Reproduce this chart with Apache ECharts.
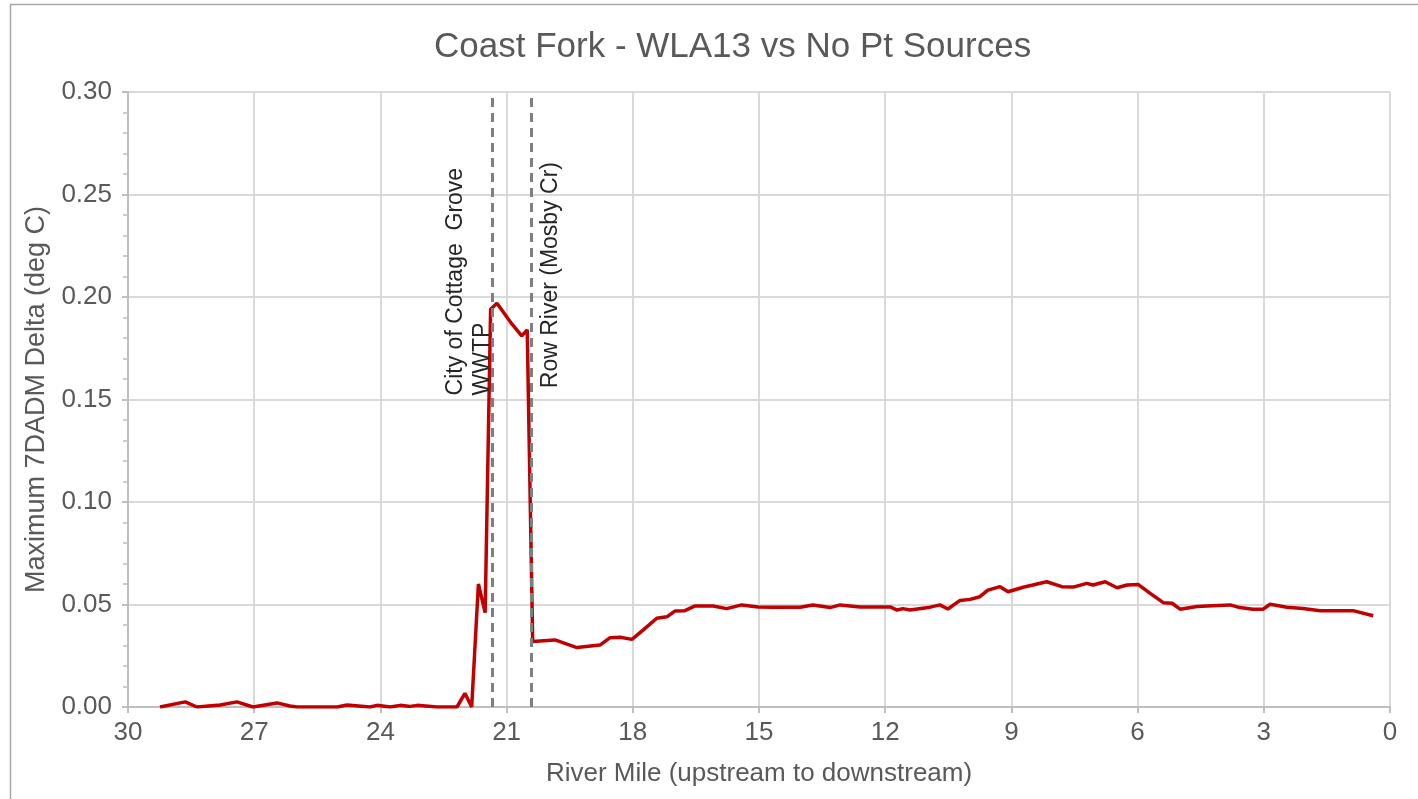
<!DOCTYPE html>
<html>
<head>
<meta charset="utf-8">
<script src="https://cdn.jsdelivr.net/npm/echarts@6/dist/echarts.min.js"></script>
<style>
html,body{margin:0;padding:0;background:#fff;}
#chart{width:1418px;height:799px;}
</style>
</head>
<body>
<div id="chart"></div>
<script>
// River mile (upstream to downstream) and Maximum 7DADM delta (deg C)
var riverMile = [29.24,28.64,28.36,27.81,27.41,27.03,26.46,26.15,25.98,25.03,24.79,24.25,24.08,23.77,23.53,23.29,23.13,22.65,22.18,21.99,21.83,21.67,21.51,21.38,21.23,20.88,20.64,20.51,20.38,19.85,19.33,18.78,18.54,18.30,18.02,17.75,17.43,17.19,17.00,16.76,16.52,16.09,15.77,15.41,15.02,14.67,14.02,13.72,13.31,13.07,12.60,11.88,11.72,11.58,11.41,10.93,10.70,10.51,10.22,9.98,9.75,9.56,9.27,9.08,8.72,8.49,8.16,7.80,7.53,7.21,7.06,6.77,6.49,6.25,5.99,5.70,5.39,5.18,4.99,4.59,4.35,3.80,3.57,3.26,3.02,2.85,2.45,2.07,1.66,0.88,0.40];
var delta = [0.000,0.0025,0.000,0.001,0.0025,0.000,0.002,0.0005,0.000,0.000,0.001,0.000,0.0008,0.000,0.0008,0.0003,0.0008,0.000,0.000,0.0067,0.000,0.060,0.046,0.194,0.197,0.187,0.181,0.184,0.032,0.0327,0.029,0.0302,0.0338,0.034,0.033,0.0376,0.0433,0.044,0.0468,0.047,0.0493,0.0493,0.048,0.0498,0.0488,0.0487,0.0487,0.0498,0.0485,0.0498,0.0488,0.0488,0.0473,0.048,0.0473,0.0487,0.0498,0.0478,0.052,0.0525,0.0538,0.057,0.0587,0.0562,0.0584,0.0595,0.0611,0.0587,0.0585,0.0603,0.0595,0.0611,0.0582,0.0595,0.0598,0.0554,0.0509,0.0506,0.0477,0.049,0.0493,0.0498,0.0485,0.0477,0.0477,0.0501,0.0487,0.0481,0.047,0.047,0.0445];

// point source locations (river mile) and labels
var sourceMiles = [21.33, 20.42];
var sourceLabels = ['City of Cottage  Grove\nWWTP', 'Row River (Mosby Cr)'];
var sourceLabelY = [0.152, 0.1555];

var title = 'Coast Fork - WLA13 vs No Pt Sources';
var xName = 'River Mile (upstream to downstream)';
var yName = 'Maximum 7DADM Delta (deg C)';

var seriesData = riverMile.map(function (m, i) { return [m, delta[i]]; });

var chart = echarts.init(document.getElementById('chart'), null, {renderer: 'canvas'});
var font = 'Liberation Sans, Arial, sans-serif';
var textColor = '#595959';

var option = {
  backgroundColor: '#ffffff',
  animation: false,
  title: {
    text: title,
    left: 429,
    top: 25,
    textStyle: {fontFamily: font, fontSize: 35, fontWeight: 'normal', color: textColor}
  },
  grid: {left: 128, right: 28, top: 92, bottom: 92},
  xAxis: {
    type: 'value',
    inverse: true,
    min: 0, max: 30, interval: 3,
    name: xName,
    nameLocation: 'middle',
    nameGap: 54,
    nameTextStyle: {fontFamily: font, fontSize: 26, color: textColor},
    axisLine: {show: true, onZero: false, lineStyle: {color: '#BFBFBF', width: 2}},
    axisTick: {show: true, length: 6, lineStyle: {color: '#BFBFBF', width: 2}},
    axisLabel: {fontFamily: font, fontSize: 26, color: textColor, margin: 13},
    splitLine: {show: true, lineStyle: {color: '#D9D9D9', width: 2}}
  },
  yAxis: {
    type: 'value',
    min: 0, max: 0.30, interval: 0.05,
    name: yName,
    nameLocation: 'middle',
    nameGap: 76,
    nameTextStyle: {fontFamily: font, fontSize: 27, color: textColor},
    axisLine: {show: true, onZero: false, lineStyle: {color: '#BFBFBF', width: 2}},
    axisTick: {show: true, length: 6, lineStyle: {color: '#BFBFBF', width: 2}},
    minorTick: {show: true, splitNumber: 5, length: 5, lineStyle: {color: '#BFBFBF', width: 1.5}},
    axisLabel: {fontFamily: font, fontSize: 26, color: textColor, margin: 16,
      formatter: function (v) { return v.toFixed(2); }},
    splitLine: {show: true, lineStyle: {color: '#D9D9D9', width: 2}}
  },
  series: [{
    type: 'line',
    data: seriesData,
    showSymbol: false,
    symbol: 'none',
    lineStyle: {color: '#C00000', width: 3.5},
    itemStyle: {color: '#C00000'},
    z: 2,
    markLine: {
      silent: true,
      symbol: 'none',
      label: {show: false},
      lineStyle: {color: '#7F7F7F', width: 3, type: [9, 6]},
      data: sourceMiles.map(function (m) { return {xAxis: m}; }),
      z: 3
    }
  }]
};
chart.setOption(option);

// annotation texts anchored through the chart's own scales
var p1 = chart.convertToPixel({gridIndex: 0}, [sourceMiles[0], sourceLabelY[0]]);
var p2 = chart.convertToPixel({gridIndex: 0}, [sourceMiles[1], sourceLabelY[1]]);
chart.setOption({
  graphic: [
    {
      type: 'rect', silent: true, z: 0,
      shape: {x: 10.5, y: 4.5, width: 1430, height: 820},
      style: {fill: 'none', stroke: '#A6A6A6', lineWidth: 1.5}
    },
    {
      type: 'text', silent: true, z: 10,
      x: p1[0] + 3, y: p1[1], rotation: Math.PI / 2,
      style: {text: sourceLabels[0], font: '23px ' + font, fill: '#262626',
        textAlign: 'left', textVerticalAlign: 'bottom', lineHeight: 27}
    },
    {
      type: 'text', silent: true, z: 10,
      x: p2[0] + 6, y: p2[1], rotation: Math.PI / 2,
      style: {text: sourceLabels[1], font: '23px ' + font, fill: '#262626',
        textAlign: 'left', textVerticalAlign: 'top', lineHeight: 27}
    }
  ]
});
</script>
</body>
</html>
